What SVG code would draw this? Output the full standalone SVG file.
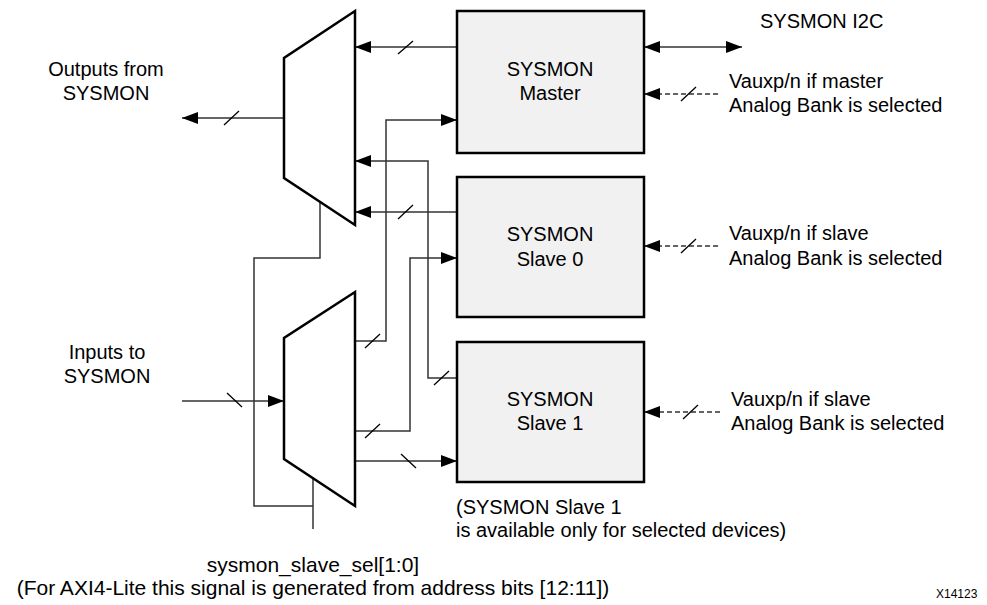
<svg xmlns="http://www.w3.org/2000/svg" width="987" height="605" viewBox="0 0 987 605">
<style>
text{font-family:"Liberation Sans",Arial,sans-serif;font-size:20px;fill:#000}
.c{text-anchor:middle}
.b{font-size:21px}
.box{fill:#f1f1f1;stroke:#000;stroke-width:2.5}
.mux{fill:#fff;stroke:#000;stroke-width:2.5;stroke-linejoin:miter}
.w{fill:none;stroke:#333;stroke-width:1.5}
.s{stroke:#000;stroke-width:1.3}
.d{fill:none;stroke:#333;stroke-width:1.5;stroke-dasharray:5 3}
</style>
<defs>
<marker id="ah" viewBox="0 0 16 12" refX="16" refY="6" markerWidth="16" markerHeight="12" markerUnits="userSpaceOnUse" orient="auto-start-reverse">
<path d="M0,0 L16,6 L0,12 z" fill="#000"/>
</marker>
</defs>
<rect width="987" height="605" fill="#fff"/>
<g id="connectors">
<path class="w" d="M284,118 L182,118" marker-end="url(#ah)"/>
<line class="s" x1="224" y1="125" x2="239" y2="111"/>
<path class="w" d="M457,47 L355,47" marker-end="url(#ah)"/>
<line class="s" x1="398" y1="54" x2="413" y2="41"/>
<path class="w" d="M355,341 L386,341 L386,120 L457,120" marker-end="url(#ah)"/>
<line class="s" x1="365" y1="348" x2="380" y2="334"/>
<path class="w" d="M457,378 L428,378 L428,161 L355,161" marker-end="url(#ah)"/>
<line class="s" x1="434" y1="385" x2="449" y2="371"/>
<path class="w" d="M457,212 L355,212" marker-end="url(#ah)"/>
<line class="s" x1="398" y1="219" x2="413" y2="205"/>
<path class="w" d="M320,202 L320,258 L254,258 L254,506 L313,506"/>
<path class="w" d="M313,478 L313,529"/>
<path class="w" d="M182,401 L284,401" marker-end="url(#ah)"/>
<line class="s" x1="227" y1="393" x2="242" y2="407"/>
<path class="w" d="M355,431 L410,431 L410,258 L457,258" marker-end="url(#ah)"/>
<line class="s" x1="365" y1="438" x2="380" y2="424"/>
<path class="w" d="M355,461 L457,461" marker-end="url(#ah)"/>
<line class="s" x1="401" y1="454" x2="416" y2="468"/>
<path class="w" d="M644,47 L742,47" marker-start="url(#ah)" marker-end="url(#ah)"/>
<path class="d" d="M718,94 L644,94" marker-end="url(#ah)"/>
<line class="s" x1="681" y1="101" x2="696" y2="87"/>
<path class="d" d="M718,246 L644,246" marker-end="url(#ah)"/>
<line class="s" x1="681" y1="253" x2="696" y2="239"/>
<path class="d" d="M720,412 L644,412" marker-end="url(#ah)"/>
<line class="s" x1="683" y1="419" x2="698" y2="405"/>
</g>
<g id="mux_out">
<polygon class="mux" points="355,11 284,58 284,178 355,225"/>
</g>
<g id="mux_in">
<polygon class="mux" points="355,292 284,338 284,459 355,506"/>
</g>
<g id="master">
<rect class="box" x="457" y="11" width="187" height="142"/>
<text class="c" x="550" y="76">SYSMON</text>
<text class="c" x="550" y="100">Master</text>
</g>
<g id="slave0">
<rect class="box" x="457" y="177" width="187" height="140"/>
<text class="c" x="550" y="241">SYSMON</text>
<text class="c" x="550" y="266">Slave 0</text>
</g>
<g id="slave1">
<rect class="box" x="457" y="342" width="187" height="140"/>
<text class="c" x="550" y="406">SYSMON</text>
<text class="c" x="550" y="430">Slave 1</text>
</g>
<g id="labels">
<text class="c" x="106" y="76">Outputs from</text>
<text class="c" x="106" y="100">SYSMON</text>
<text class="c" x="107" y="359">Inputs to</text>
<text class="c" x="107" y="383">SYSMON</text>
<text x="760" y="28">SYSMON I2C</text>
<text x="729" y="88">Vauxp/n if master</text>
<text x="729" y="112">Analog Bank is selected</text>
<text x="729" y="240">Vauxp/n if slave</text>
<text x="729" y="265">Analog Bank is selected</text>
<text x="731" y="406">Vauxp/n if slave</text>
<text x="731" y="430">Analog Bank is selected</text>
<text x="456" y="514">(SYSMON Slave 1</text>
<text x="456" y="537">is available only for selected devices)</text>
<text class="c b" x="313" y="572">sysmon_slave_sel[1:0]</text>
<text class="c b" x="313" y="595">(For AXI4-Lite this signal is generated from address bits [12:11])</text>
<text x="936" y="598" style="font-size:12px">X14123</text>
</g>
</svg>
